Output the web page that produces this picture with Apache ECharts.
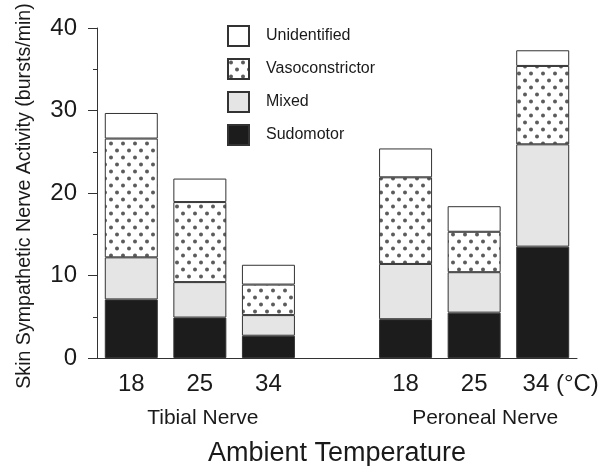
<!DOCTYPE html>
<html>
<head>
<meta charset="UTF-8">
<title></title>
<script src="https://cdn.jsdelivr.net/npm/echarts@6/dist/echarts.min.js"></script>
<style>
  html, body { margin: 0; padding: 0; background: #fff; }
</style>
</head>
<body>
<div id="main" style="width: 607px;height: 466px;"></div>
<script type="text/javascript">
// categories (the empty one is the gap between the two nerves)
var temps = ['18', '25', '34', '', '18', '25', '34 (°C)'];
var nerves = ['', 'Tibial Nerve', '', '', '', 'Peroneal Nerve', ''];
var yTicks = [0, 10, 20, 30, 40];

// stacked segments, bursts/min
var sudomotor       = [7.1, 4.9, 2.7, '-', 4.7, 5.5, 13.5];
var mixed           = [5.1, 4.3, 2.5, '-', 6.7, 4.9, 12.4];
var vasoconstrictor = [14.4, 9.7, 3.7, '-', 10.5, 4.9, 9.5];
var unidentified    = [3.1, 2.85, 2.4, '-', 3.5, 3.1, 1.9];

var font = 'Liberation Sans';
var ink = '#1a1a1a';

// dotted fill for vasoconstrictor
function dotPattern() {
    var c = document.createElement('canvas');
    c.width = 12; c.height = 14;
    var ctx = c.getContext('2d');
    ctx.fillStyle = '#fff';
    ctx.fillRect(0, 0, 12, 14);
    ctx.fillStyle = '#5c5c5c';
    [[3, 3.5], [9, 10.5]].forEach(function (p) {
        ctx.beginPath();
        ctx.arc(p[0], p[1], 2.0, 0, Math.PI * 2);
        ctx.fill();
    });
    return c;
}

var myChart = echarts.init(document.getElementById('main'));
var edge = '#333';

function bar(name, data, fill) {
    return {
        name: name,
        type: 'bar',
        stack: 'ssna',
        barWidth: 53,
        data: data,
        itemStyle: { color: fill, borderColor: edge, borderWidth: 1 },
        emphasis: { disabled: true }
    };
}

myChart.setOption({
    animation: false,
    textStyle: { fontFamily: font, color: ink },
    grid: { left: 97, top: 28, width: 480, height: 330, outerBoundsMode: 'none' },
    legend: {
        orient: 'vertical',
        left: 222,
        top: 20,
        icon: 'rect',
        itemWidth: 21,
        itemHeight: 20,
        itemGap: 11,
        data: ['Unidentified', 'Vasoconstrictor', 'Mixed', 'Sudomotor'],
        textStyle: { fontFamily: font, fontSize: 16, color: ink, padding: [0, 0, 0, 12] }
    },
    xAxis: [{
        type: 'category',
        data: temps,
        name: 'Ambient Temperature',
        nameLocation: 'middle',
        nameGap: 82,
        nameTextStyle: { fontFamily: font, fontSize: 27, color: ink },
        axisLine: { lineStyle: { color: edge, width: 1 } },
        axisTick: { length: 8, lineStyle: { color: edge } },
        axisLabel: {
            fontFamily: font, fontSize: 24, color: ink, margin: 14, interval: 0,
            formatter: function (v, i) { return i === 6 ? '{u|' + v + '}' : v; },
            rich: { u: { fontFamily: font, fontSize: 24, color: ink, padding: [0, 0, 0, 36] } }
        }
    }, {
        type: 'category',
        data: nerves,
        position: 'bottom',
        offset: 42,
        axisLine: { show: false },
        axisTick: { show: false },
        axisLabel: {
            fontFamily: font, fontSize: 21, color: ink, margin: 8, interval: 0,
            formatter: function (v, i) { return i === 5 ? '{p|' + v + '}' : '{t|' + v + '}'; },
            rich: {
                t: { fontFamily: font, fontSize: 21, color: ink, padding: [0, 0, 0, 6] },
                p: { fontFamily: font, fontSize: 21, color: ink, padding: [0, 0, 0, 22] }
            }
        }
    }],
    yAxis: {
        type: 'value',
        min: yTicks[0],
        max: yTicks[yTicks.length - 1],
        interval: 10,
        name: 'Skin Sympathetic Nerve Activity (bursts/min)',
        nameLocation: 'middle',
        nameGap: 62,
        nameTextStyle: { fontFamily: font, fontSize: 19.6, color: ink, padding: [0, 6, 0, 0] },
        axisLine: { show: true, lineStyle: { color: edge, width: 1 } },
        axisTick: { show: true, length: 9, lineStyle: { color: edge } },
        minorTick: { show: true, splitNumber: 2, length: 4, lineStyle: { color: edge } },
        splitLine: { show: false },
        axisLabel: { fontFamily: font, fontSize: 24, color: ink, margin: 20 }
    },
    series: [
        bar('Sudomotor', sudomotor, '#1c1c1c'),
        bar('Mixed', mixed, '#e5e5e5'),
        bar('Vasoconstrictor', vasoconstrictor, { image: dotPattern(), repeat: 'repeat' }),
        bar('Unidentified', unidentified, '#ffffff')
    ]
});
</script>
</body>
</html>
